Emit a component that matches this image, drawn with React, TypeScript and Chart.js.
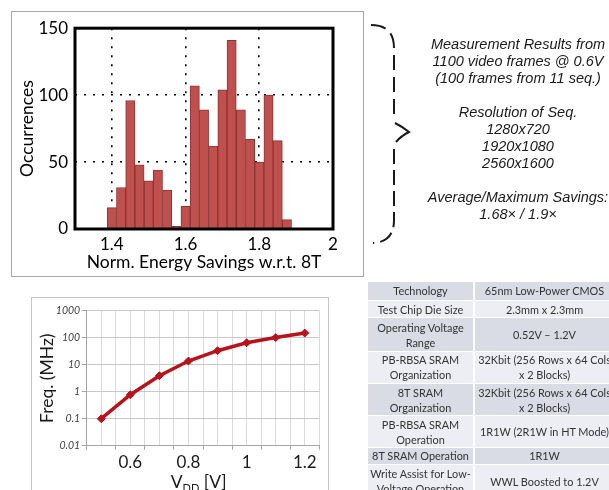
import React, { useEffect, useRef } from 'react';
import { Chart, registerables } from 'chart.js';

Chart.register(...registerables);

// ---------- Histogram data ----------
const BIN_CENTERS = [1.4, 1.425, 1.45, 1.475, 1.5, 1.525, 1.55, 1.575, 1.6, 1.625, 1.65, 1.675, 1.7, 1.725, 1.75, 1.775, 1.8, 1.825, 1.85, 1.875];
const OCCURRENCES = [16, 31, 96, 48, 36, 44, 29, 2, 17, 107, 89, 62, 104, 141, 89, 67, 50, 100, 66, 7];
const HIST_X_TICKS = [1.4, 1.6, 1.8, 2];
const HIST_X_LABELS = ['1.4', '1.6', '1.8', '2'];
const HIST_Y_TICKS = [0, 50, 100, 150];
const HIST_Y_LABELS = ['0', '50', '100', '150'];

// ---------- Frequency vs VDD data ----------
const VDD = [0.5, 0.6, 0.7, 0.8, 0.9, 1.0, 1.1, 1.2];
const FREQ_MHZ = [0.1, 0.77, 3.9, 13.7, 33, 65, 101, 149];
const FREQ_TICKS = [0.01, 0.1, 1, 10, 100, 1000];
const FREQ_TICK_LABELS = ['0.01', '0.1', '1', '10', '100', '1000'];
const VDD_GRID = [0.45, 0.5, 0.55, 0.6, 0.65, 0.7, 0.75, 0.8, 0.85, 0.9, 0.95, 1.0, 1.05, 1.1, 1.15, 1.2, 1.25];
const VDD_LABELED = [0.6, 0.8, 1.0, 1.2];
const VDD_LABELS = ['0.6', '0.8', '1', '1.2'];

// ---------- Notes & table ----------
const NOTES = [
  'Measurement Results from',
  '1100 video frames @ 0.6V',
  '(100 frames from 11 seq.)',
  '',
  'Resolution of Seq.',
  '1280x720',
  '1920x1080',
  '2560x1600',
  '',
  'Average/Maximum Savings:',
  '1.68× / 1.9×',
];

const TABLE_ROWS = [
  ['Technology', '65nm Low-Power CMOS'],
  ['Test Chip Die Size', '2.3mm x 2.3mm'],
  ['Operating Voltage\nRange', '0.52V – 1.2V'],
  ['PB-RBSA SRAM\nOrganization', '32Kbit (256 Rows x 64 Cols\nx 2 Blocks)'],
  ['8T SRAM\nOrganization', '32Kbit (256 Rows x 64 Cols\nx 2 Blocks)'],
  ['PB-RBSA SRAM\nOperation', '1R1W (2R1W in HT Mode)'],
  ['8T SRAM Operation', '1R1W'],
  ['Write Assist for Low-\nVoltage Operation', 'WWL Boosted to 1.2V'],
];
const ROW_HEIGHTS = [17.7, 17.7, 33.3, 32.3, 32.4, 31.6, 17, 34];

const FONT = 'Lato, "Open Sans", sans-serif';

function Histogram() {
  const ref = useRef<HTMLCanvasElement>(null);
  useEffect(() => {
    if (!ref.current) return;
    const chart = new Chart(ref.current, {
      type: 'bar',
      data: {
        datasets: [
          {
            data: BIN_CENTERS.map((x, i) => ({ x, y: OCCURRENCES[i] })),
            backgroundColor: '#c0504d',
            borderColor: '#8a3532',
            borderWidth: 1,
            barPercentage: 1,
            categoryPercentage: 1,
            borderSkipped: 'start',
          } as any,
        ],
      },
      options: {
        responsive: false,
        animation: false,
        devicePixelRatio: 1,
        layout: { padding: { top: 17, right: 30, left: 0, bottom: 0 } },
        plugins: { legend: { display: false }, tooltip: { enabled: false } },
        scales: {
          x: {
            type: 'linear',
            min: 1.3,
            max: 2,
            offset: false,
            afterBuildTicks: (s: any) => {
              s.ticks = HIST_X_TICKS.map((v) => ({ value: v }));
            },
            afterFit: (s: any) => {
              s.height = 47;
            },
            grid: { color: '#000', lineWidth: 1.6, drawTicks: false, offset: false },
            border: { display: false, dash: [2, 7] },
            ticks: {
              autoSkip: false,
              maxRotation: 0,
              padding: 5,
              color: '#000',
              font: { family: FONT, size: 17 },
              callback: (_v: any, i: number) => HIST_X_LABELS[i],
            },
            title: {
              display: true,
              text: 'Norm. Energy Savings w.r.t. 8T',
              color: '#000',
              font: { family: FONT, size: 17.5 },
              padding: { top: 0, bottom: 3 },
            },
          } as any,
          y: {
            min: 0,
            max: 150,
            afterBuildTicks: (s: any) => {
              s.ticks = HIST_Y_TICKS.map((v) => ({ value: v }));
            },
            afterFit: (s: any) => {
              s.width = 64;
            },
            grid: { color: '#000', lineWidth: 1.6, drawTicks: false },
            border: { display: false, dash: [2, 7] },
            ticks: {
              padding: 7,
              color: '#000',
              font: { family: FONT, size: 17 },
              callback: (_v: any, i: number) => HIST_Y_LABELS[i],
            },
            title: {
              display: true,
              text: 'Occurrences',
              color: '#000',
              font: { family: FONT, size: 17.5 },
              padding: { top: 5.5, bottom: 0 },
            },
          } as any,
        },
      },
      plugins: [
        {
          id: 'frame',
          afterDraw(c: any) {
            const { ctx, chartArea: a } = c;
            ctx.save();
            ctx.lineWidth = 3;
            ctx.strokeStyle = '#000';
            ctx.strokeRect(a.left, a.top, a.right - a.left, a.bottom - a.top);
            ctx.restore();
          },
        },
      ],
    });
    return () => chart.destroy();
  }, []);
  return <canvas ref={ref} width={352} height={265} style={{ position: 'absolute', left: 11, top: 11 }} />;
}

function FreqChart() {
  const ref = useRef<HTMLCanvasElement>(null);
  useEffect(() => {
    if (!ref.current) return;
    const chart = new Chart(ref.current, {
      type: 'line',
      data: {
        datasets: [
          {
            data: VDD.map((x, i) => ({ x, y: FREQ_MHZ[i] })),
            borderColor: '#b8131c',
            backgroundColor: '#b8131c',
            borderWidth: 3.5,
            pointStyle: 'rectRot',
            pointRadius: 4,
            pointBorderWidth: 1,
            tension: 0,
          } as any,
        ],
      },
      options: {
        responsive: false,
        animation: false,
        devicePixelRatio: 1,
        layout: { padding: { top: 12.7, right: 8.7, left: 0, bottom: 0 } },
        plugins: { legend: { display: false }, tooltip: { enabled: false } },
        scales: {
          x: {
            type: 'linear',
            min: 0.45,
            max: 1.25,
            afterBuildTicks: (s: any) => {
              s.ticks = VDD_GRID.map((v) => ({ value: v }));
            },
            afterFit: (s: any) => {
              s.height = 54.3;
            },
            grid: {
              color: '#d9d9d9',
              lineWidth: 1,
              tickLength: 4,
              tickColor: (ctx: any) => (ctx.index % 2 === 0 ? '#a6a6a6' : 'rgba(0,0,0,0)'),
            },
            border: { display: true, color: '#a6a6a6', width: 1 },
            ticks: {
              autoSkip: false,
              maxRotation: 0,
              padding: 3,
              color: '#1a1a1a',
              font: { family: FONT, size: 17 },
              callback: (v: any) => {
                const k = VDD_LABELED.findIndex((t) => Math.abs(t - Number(v)) < 1e-6);
                return k >= 0 ? VDD_LABELS[k] : '';
              },
            },
          } as any,
          y: {
            type: 'logarithmic',
            min: 0.01,
            max: 1000,
            afterBuildTicks: (s: any) => {
              s.ticks = FREQ_TICKS.map((v) => ({ value: v }));
            },
            afterFit: (s: any) => {
              s.width = 54.7;
            },
            grid: { color: '#c8c8c8', lineWidth: 1, tickLength: 5, tickColor: '#a6a6a6' },
            border: { display: true, color: '#a6a6a6', width: 1 },
            ticks: {
              padding: 1.5,
              color: '#404040',
              font: { family: FONT, size: 10.5, style: 'italic' },
              callback: (_v: any, i: number) => FREQ_TICK_LABELS[i],
            },
            title: {
              display: true,
              text: 'Freq. (MHz)',
              color: '#1a1a1a',
              font: { family: FONT, size: 17.5 },
              padding: { top: 4.5, bottom: 0 },
            },
          } as any,
        },
      },
      plugins: [
        {
          id: 'vddTitle',
          afterDraw(c: any) {
            const { ctx, chartArea: a } = c;
            ctx.save();
            ctx.fillStyle = '#1a1a1a';
            ctx.textBaseline = 'alphabetic';
            ctx.textAlign = 'left';
            const big = `17.5px ${FONT}`;
            const small = `11px ${FONT}`;
            let x = a.left + 84;
            const y = a.bottom + 42;
            ctx.font = big;
            ctx.fillText('V', x, y);
            x += ctx.measureText('V').width;
            ctx.font = small;
            ctx.fillText('DD', x, y + 4);
            x += ctx.measureText('DD').width;
            ctx.font = big;
            ctx.fillText(' [V]', x, y);
            ctx.restore();
          },
        },
      ],
    });
    return () => chart.destroy();
  }, []);
  return <canvas ref={ref} width={296} height={202} style={{ position: 'absolute', left: 32, top: 298 }} />;
}

function Brace() {
  const stroke = '#1a1a1a';
  return (
    <svg width={609} height={490} style={{ position: 'absolute', left: 0, top: 0, pointerEvents: 'none' }}>
      <path d="M371,25 Q394,25 394,48 L394,118" fill="none" stroke={stroke} strokeWidth={2} strokeDasharray="15 7" />
      <path d="M395,123 Q403,127 409,132 Q401,136 396,142" fill="none" stroke={stroke} strokeWidth={2} />
      <path d="M394,149 L394,220 Q394,242 373,243" fill="none" stroke={stroke} strokeWidth={2} strokeDasharray="15 6" />
    </svg>
  );
}

function Notes() {
  return (
    <div
      style={{
        position: 'absolute',
        left: 418,
        top: 35.5,
        width: 200,
        textAlign: 'center',
        fontFamily: '"Liberation Sans", Arial, sans-serif',
        fontStyle: 'italic',
        fontSize: 14.5,
        lineHeight: '17px',
        color: '#1a1a1a',
        whiteSpace: 'nowrap',
      }}
    >
      {NOTES.map((t, i) => (
        <div key={i} style={{ height: 17 }}>
          {t}
        </div>
      ))}
    </div>
  );
}

function SpecTable() {
  return (
    <div style={{ position: 'absolute', left: 368, top: 282, width: 246, fontFamily: FONT, fontSize: 10.9, color: '#333' }}>
      {TABLE_ROWS.map((r, i) => (
        <div
          key={i}
          style={{
            display: 'flex',
            height: ROW_HEIGHTS[i],
            background: i % 2 === 0 ? '#d9dce5' : '#eceef3',
            borderTop: i === 0 ? 'none' : '1px solid #fff',
            boxSizing: 'border-box',
          }}
        >
          <div
            style={{
              width: 105,
              flex: 'none',
              display: 'flex',
              alignItems: 'center',
              justifyContent: 'center',
              textAlign: 'center',
              whiteSpace: 'pre',
              lineHeight: '15px',
              borderRight: '2px solid #fff',
              overflow: 'hidden',
            }}
          >
            {r[0]}
          </div>
          <div
            style={{
              flex: 1,
              display: 'flex',
              alignItems: 'center',
              justifyContent: 'center',
              textAlign: 'center',
              whiteSpace: 'pre',
              lineHeight: '15px',
              overflow: 'hidden',
            }}
          >
            {r[1]}
          </div>
        </div>
      ))}
    </div>
  );
}

export default function App() {
  return (
    <div style={{ position: 'fixed', left: 0, top: 0, width: 609, height: 490, overflow: 'hidden', background: '#fff' }}>
      <div style={{ position: 'absolute', left: 11, top: 11, width: 353, height: 266, border: '1px solid #a6a6a6', boxSizing: 'border-box' }} />
      <div style={{ position: 'absolute', left: 31, top: 297, width: 298, height: 220, border: '1px solid #c4c4c4', boxSizing: 'border-box' }} />
      <Histogram />
      <FreqChart />
      <Brace />
      <Notes />
      <SpecTable />
    </div>
  );
}
